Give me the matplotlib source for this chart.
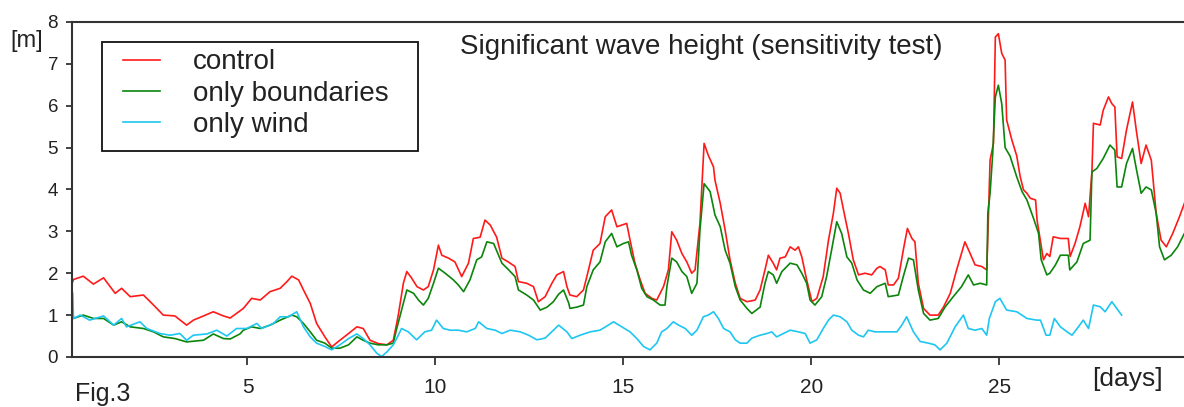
import matplotlib
matplotlib.use("Agg")
import matplotlib.pyplot as plt
from matplotlib.patches import Rectangle

plt.rcParams["font.family"] = ["Liberation Sans", "DejaVu Sans"]

RED, GREEN, CYAN, INK = "#ff1a1a", "#0b850b", "#1ec6f2", "#222222"

# control run
red_days = [0.35, 0.37, 0.63, 0.90, 1.17, 1.48, 1.65, 1.88, 2.23, 2.50, 2.76, 3.07, 3.38, 3.56,
            3.83, 4.09, 4.36, 4.54, 4.89, 5.11, 5.34, 5.60, 5.87, 6.05, 6.18, 6.36, 6.49, 6.67,
            6.84, 7.06, 7.24, 7.46, 7.69, 7.91, 8.08, 8.26, 8.48, 8.71, 8.88, 8.97, 9.02, 9.15,
            9.24, 9.37, 9.51, 9.68, 9.81, 9.95, 10.08, 10.17, 10.35, 10.52, 10.70, 10.88, 11.01,
            11.19, 11.32, 11.46, 11.63, 11.77, 11.94, 12.12, 12.21, 12.43, 12.61, 12.74, 12.92,
            13.10, 13.23, 13.41, 13.50, 13.58, 13.76, 13.94, 14.03, 14.20, 14.38, 14.52, 14.69,
            14.83, 14.96, 15.09, 15.18, 15.31, 15.45, 15.58, 15.76, 15.89, 16.07, 16.20, 16.29,
            16.42, 16.56, 16.69, 16.82, 16.91, 17.04, 17.15, 17.26, 17.40, 17.44, 17.58, 17.71,
            17.84, 17.98, 18.11, 18.29, 18.51, 18.64, 18.77, 18.86, 18.99, 19.08, 19.17, 19.31,
            19.44, 19.57, 19.66, 19.75, 19.88, 20.02, 20.15, 20.32, 20.46, 20.59, 20.68, 20.77,
            20.86, 20.99, 21.12, 21.26, 21.43, 21.61, 21.75, 21.83, 21.97, 22.05, 22.19, 22.32,
            22.45, 22.56, 22.68, 22.76, 22.85, 22.99, 23.16, 23.38, 23.52, 23.70, 23.87, 24.09,
            24.23, 24.36, 24.54, 24.67, 24.70, 24.76, 24.85, 24.90, 24.98, 25.07, 25.16, 25.20,
            25.34, 25.47, 25.56, 25.65, 25.74, 25.83, 25.97, 26.01, 26.18, 26.27, 26.35, 26.44,
            26.63, 26.84, 26.89, 27.02, 27.15, 27.29, 27.38, 27.47, 27.51, 27.69, 27.77, 27.91,
            28.00, 28.08, 28.14, 28.26, 28.39, 28.55, 28.65, 28.78, 28.91, 29.05, 29.18, 29.31,
            29.45, 29.62, 29.80, 29.93]
red_hs = [1.80, 1.85, 1.93, 1.74, 1.89, 1.52, 1.64, 1.44, 1.48, 1.24, 1.00, 0.98, 0.76, 0.88,
          0.98, 1.08, 0.98, 0.93, 1.16, 1.40, 1.36, 1.56, 1.64, 1.80, 1.93, 1.84, 1.60, 1.28,
          0.80, 0.48, 0.24, 0.40, 0.56, 0.72, 0.68, 0.40, 0.32, 0.29, 0.40, 0.80, 1.04, 1.77,
          2.04, 1.88, 1.68, 1.60, 1.68, 2.08, 2.67, 2.43, 2.36, 2.27, 1.92, 2.24, 2.83,
          2.86, 3.27, 3.15, 2.86, 2.36, 2.27, 2.16, 1.80, 1.76, 1.68, 1.32, 1.44,
          1.76, 1.96, 2.04, 1.68, 1.48, 1.44, 1.60, 1.92, 2.55, 2.71, 3.35, 3.51,
          3.11, 3.15, 3.19, 2.79, 2.24, 1.84, 1.52, 1.40, 1.36, 1.68, 2.08, 2.99,
          2.79, 2.47, 2.27, 2.00, 2.08, 3.19, 5.10, 4.82, 4.54, 4.22, 3.67, 3.03,
          2.32, 1.76, 1.40, 1.32, 1.36, 1.60, 2.08, 2.43, 2.24, 2.08, 2.36, 2.39,
          2.63, 2.55, 2.63, 2.39, 1.84, 1.32, 1.40, 1.92, 2.79, 3.43, 4.03, 3.91,
          3.51, 2.95, 2.32, 1.96, 2.00, 1.96, 2.12, 2.16, 2.08, 1.72, 1.72, 1.88,
          2.55, 3.07, 2.83, 2.75, 1.76, 1.16, 1.00, 1.00, 1.19, 1.52, 2.08, 2.75,
          2.47, 2.20, 2.16, 2.08, 2.87, 4.70, 5.10, 7.64, 7.72, 7.25, 7.09, 5.66,
          5.18, 4.80, 4.31, 3.99, 3.91, 3.79, 3.75, 3.27, 2.32, 2.47, 2.40, 2.87,
          2.83, 2.83, 2.40, 2.71, 3.11, 3.67, 3.35, 4.42, 5.58, 5.54, 5.89, 6.21,
          6.05, 5.97, 4.78, 4.74, 5.42, 6.09, 5.42, 4.62, 5.06, 4.70, 3.43, 2.79,
          2.63, 2.95, 3.35, 3.67]

# only boundaries
green_days = [0.35, 0.37, 0.63, 0.90, 1.17, 1.44, 1.65, 1.88, 2.23, 2.50, 2.76, 3.07, 3.38, 3.83,
              4.09, 4.36, 4.54, 4.80, 4.89, 5.11, 5.34, 5.60, 5.87, 6.18, 6.31, 6.49, 6.67, 6.84,
              7.06, 7.24, 7.46, 7.69, 7.91, 8.08, 8.26, 8.48, 8.71, 8.88, 8.96, 9.10, 9.24, 9.42,
              9.55, 9.68, 9.81, 9.95, 10.08, 10.26, 10.48, 10.61, 10.75, 10.92, 11.10, 11.23,
              11.37, 11.55, 11.68, 11.77, 11.95, 12.12, 12.21, 12.43, 12.61, 12.79, 12.97, 13.14,
              13.28, 13.41, 13.55, 13.58, 13.76, 13.94, 14.03, 14.20, 14.38, 14.52, 14.69, 14.83,
              15.00, 15.14, 15.22, 15.36, 15.49, 15.63, 15.80, 15.98, 16.11, 16.16, 16.29, 16.42,
              16.56, 16.69, 16.82, 16.96, 17.04, 17.15, 17.31, 17.44, 17.58, 17.71, 17.84, 17.98,
              18.11, 18.29, 18.42, 18.64, 18.77, 18.86, 18.99, 19.08, 19.22, 19.44, 19.62, 19.75,
              19.88, 19.97, 20.10, 20.28, 20.41, 20.55, 20.68, 20.81, 20.95, 21.08, 21.22, 21.39,
              21.57, 21.75, 21.97, 22.05, 22.32, 22.45, 22.59, 22.72, 22.85, 22.99, 23.16, 23.38,
              23.56, 23.78, 24.00, 24.18, 24.32, 24.50, 24.67, 24.70, 24.76, 24.83, 24.90, 24.98,
              25.07, 25.16, 25.29, 25.47, 25.61, 25.74, 25.92, 26.05, 26.12, 26.27, 26.35, 26.50,
              26.63, 26.84, 26.88, 27.07, 27.24, 27.42, 27.47, 27.60, 27.77, 27.95, 28.08, 28.14,
              28.26, 28.39, 28.55, 28.65, 28.78, 28.91, 29.05, 29.18, 29.27, 29.40, 29.58, 29.75,
              29.93]
green_hs = [1.15, 0.92, 1.00, 0.92, 0.92, 0.76, 0.84, 0.72, 0.68, 0.60, 0.48, 0.44, 0.36, 0.40,
            0.55, 0.44, 0.43, 0.55, 0.64, 0.72, 0.68, 0.76, 0.88, 1.00, 0.96, 0.80, 0.60, 0.40,
            0.33, 0.21, 0.21, 0.29, 0.48, 0.40, 0.33, 0.29, 0.29, 0.33, 0.64, 1.12, 1.60, 1.52,
            1.36, 1.24, 1.40, 1.76, 2.12, 2.00, 1.84, 1.72, 1.56, 1.84, 2.32, 2.39,
            2.75, 2.71, 2.43, 2.24, 2.08, 1.92, 1.60, 1.48, 1.36, 1.12, 1.19, 1.32,
            1.50, 1.60, 1.28, 1.16, 1.19, 1.24, 1.68, 2.08, 2.27, 2.75, 2.95, 2.63,
            2.71, 2.75, 2.43, 2.08, 1.64, 1.44, 1.36, 1.24, 1.24, 1.68, 2.36, 2.27,
            2.04, 1.92, 1.52, 1.76, 3.03, 4.14, 3.95, 3.39, 3.11, 2.55, 2.24, 1.68,
            1.36, 1.16, 1.04, 1.19, 1.76, 2.04, 1.96, 1.76, 2.04, 2.24, 2.20, 2.00,
            1.76, 1.36, 1.24, 1.44, 1.92, 2.59, 3.23, 2.95, 2.39, 2.24, 1.84, 1.60,
            1.52, 1.68, 1.76, 1.44, 1.48, 1.92, 2.36, 2.32, 1.60, 1.04, 0.88, 0.92,
            1.19, 1.44, 1.68, 1.96, 1.72, 1.76, 1.72, 3.43, 3.91, 4.86, 6.21, 6.49,
            6.05, 5.00, 4.80, 4.30, 3.95, 3.75, 3.30, 2.95, 2.32, 1.96, 2.00, 2.20,
            2.43, 2.43, 2.08, 2.27, 2.71, 2.79, 4.42, 4.50, 4.74, 5.06, 4.94, 4.06,
            4.06, 4.62, 4.98, 4.50, 3.91, 4.06, 3.99, 3.43, 2.63, 2.32, 2.43, 2.63,
            2.95]

# only wind
cyan_days = [0.35, 0.37, 0.55, 0.80, 1.17, 1.44, 1.65, 1.78, 2.14, 2.32, 2.67, 2.94, 3.20, 3.38,
             3.56, 3.92, 4.18, 4.45, 4.71, 4.98, 5.25, 5.38, 5.69, 5.87, 6.09, 6.31, 6.49, 6.67,
             6.84, 7.06, 7.24, 7.46, 7.69, 7.91, 8.08, 8.26, 8.44, 8.57, 8.71, 8.88, 8.99, 9.10,
             9.28, 9.50, 9.72, 9.90, 10.03, 10.21, 10.39, 10.61, 10.83, 11.06, 11.15, 11.37,
             11.59, 11.77, 11.99, 12.26, 12.48, 12.70, 12.92, 13.14, 13.28, 13.50, 13.63, 13.85,
             14.12, 14.38, 14.60, 14.74, 14.96, 15.18, 15.36, 15.54, 15.71, 15.89, 16.02, 16.16,
             16.33, 16.47, 16.65, 16.82, 16.96, 17.13, 17.26, 17.40, 17.53, 17.67, 17.84, 17.98,
             18.11, 18.29, 18.42, 18.64, 18.82, 18.95, 19.08, 19.26, 19.44, 19.66, 19.84, 19.97,
             20.15, 20.32, 20.46, 20.59, 20.77, 20.95, 21.08, 21.26, 21.39, 21.52, 21.70, 22.10,
             22.28, 22.41, 22.54, 22.72, 22.90, 23.12, 23.29, 23.43, 23.61, 23.83, 24.05, 24.18,
             24.36, 24.54, 24.67, 24.74, 24.90, 25.02, 25.20, 25.47, 25.74, 26.00, 26.10, 26.25,
             26.35, 26.47, 26.63, 26.81, 26.94, 27.11, 27.24, 27.38, 27.51, 27.69, 27.82, 28.00,
             28.13, 28.26]
cyan_hs = [1.52, 0.92, 1.00, 0.88, 0.98, 0.76, 0.92, 0.72, 0.84, 0.68, 0.56, 0.52, 0.56, 0.40,
           0.52, 0.55, 0.64, 0.50, 0.68, 0.68, 0.80, 0.68, 0.80, 0.96, 0.96, 1.08, 0.72, 0.48,
           0.33, 0.25, 0.17, 0.29, 0.44, 0.55, 0.44, 0.29, 0.09, 0.01, 0.12, 0.29, 0.48, 0.68,
           0.60, 0.41, 0.60, 0.64, 0.88, 0.68, 0.64, 0.64, 0.60, 0.68, 0.84, 0.68,
           0.64, 0.56, 0.64, 0.60, 0.52, 0.41, 0.45, 0.64, 0.76, 0.60, 0.44, 0.52,
           0.60, 0.64, 0.76, 0.84, 0.72, 0.60, 0.44, 0.25, 0.17, 0.33, 0.60, 0.68,
           0.84, 0.76, 0.68, 0.52, 0.64, 0.96, 1.00, 1.08, 0.92, 0.68, 0.60, 0.41,
           0.33, 0.33, 0.45, 0.52, 0.56, 0.60, 0.48, 0.56, 0.64, 0.60, 0.56, 0.33,
           0.41, 0.68, 0.88, 1.00, 0.96, 0.84, 0.64, 0.52, 0.48, 0.64, 0.60, 0.60,
           0.60, 0.76, 0.96, 0.60, 0.37, 0.33, 0.29, 0.17, 0.33, 0.72, 1.00, 0.68,
           0.64, 0.68, 0.52, 0.92, 1.32, 1.40, 1.12, 1.08, 0.92, 0.88, 0.88, 0.52,
           0.52, 0.92, 0.72, 0.60, 0.52, 0.72, 0.88, 0.68, 1.24, 1.20, 1.08, 1.32,
           1.16, 1.00]

fig = plt.figure(figsize=(11.84, 4.07), dpi=100)
ax = fig.add_axes([0.0608, 0.1229, 0.9392, 0.8231])

ax.plot(red_days, red_hs, color=RED, lw=1.2, label="control")
ax.plot(green_days, green_hs, color=GREEN, lw=1.2, label="only boundaries")
ax.plot(cyan_days, cyan_hs, color=CYAN, lw=1.2, label="only wind")

ax.set_xlim(0.33, 29.92)
ax.set_ylim(0, 8)
ax.set_xticks([5, 10, 15, 20, 25])
ax.set_yticks(range(9))
ax.tick_params(axis="x", direction="out", length=6, width=1.2, pad=9,
               labelsize=15, colors=INK)
ax.tick_params(axis="y", direction="out", length=4, width=1.2, pad=6,
               labelsize=13.5, colors=INK)
ax.spines["right"].set_visible(False)
for s in ("left", "bottom", "top"):
    ax.spines[s].set_color("#333333")
    ax.spines[s].set_linewidth(1.5)

# legend frame drawn separately so the entries can sit where the original has them
ax.add_patch(Rectangle((0.027, 0.615), 0.284, 0.325, transform=ax.transAxes,
                       facecolor="white", edgecolor="#111111", lw=1.3, zorder=4))
leg = ax.legend(loc="upper left", bbox_to_anchor=(0.0459, 0.918),
                borderaxespad=0, borderpad=0, fontsize=20, frameon=False,
                handlelength=1.33, handletextpad=1.19, labelspacing=0.19)
leg.set_zorder(5)
for t in leg.get_texts():
    t.set_color(INK)

fig.text(0.3885, 0.8845, "Significant wave height (sensitivity test)",
         fontsize=20, color=INK, va="center", ha="left")
fig.text(0.0085, 0.9, "[m]", fontsize=17, color=INK, va="center", ha="left")
fig.text(0.922, 0.0700, "[days]", fontsize=19, color=INK, va="center", ha="left")
fig.text(0.063, 0.003, "Fig.3", fontsize=18, color=INK, va="bottom", ha="left")

fig.savefig("out.png", dpi=100)
